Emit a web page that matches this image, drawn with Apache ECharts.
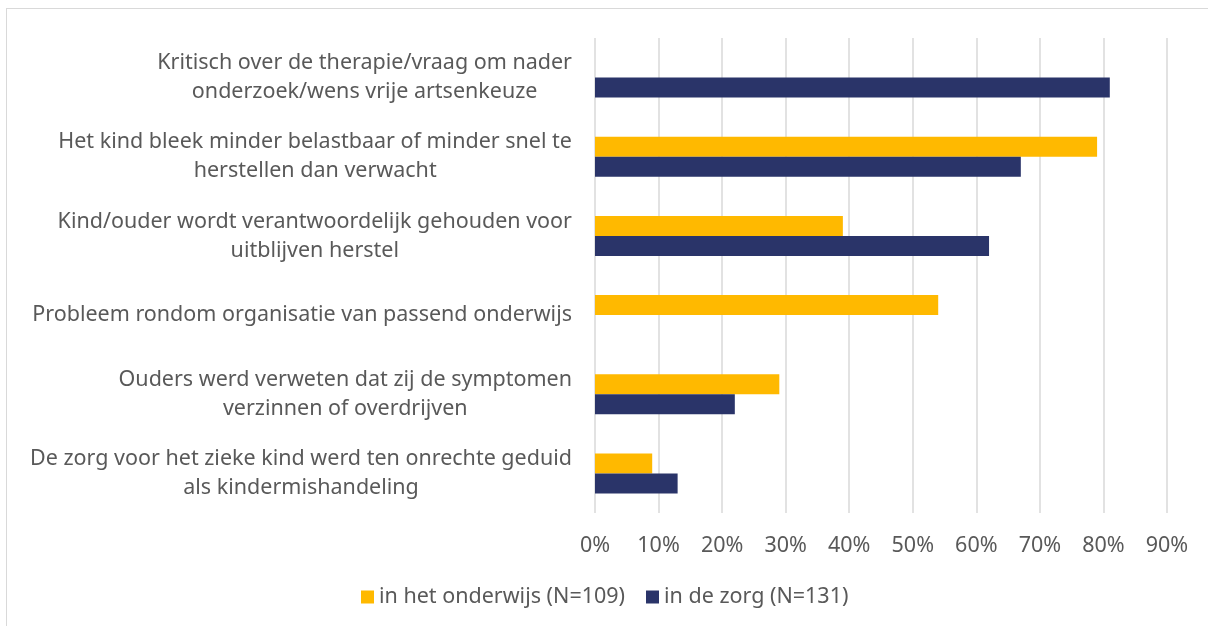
<!DOCTYPE html>
<html>
<head>
<meta charset="utf-8">
<script src="https://cdn.jsdelivr.net/npm/echarts@6/dist/echarts.min.js"></script>
<style>
    html, body { margin: 0; padding: 0; background: #fff; }
    #frame {
        position: absolute; left: 6px; top: 8px;
        width: 1240px; height: 660px;
        border: 1px solid #d9d9d9;
    }
    #chart { position: absolute; left: 0; top: 0; width: 1208px; height: 626px; }
</style>
</head>
<body>
<div id="frame"></div>
<div id="chart"></div>
<script>
var categories = [
    'Kritisch over de therapie/vraag om nader\nonderzoek/wens vrije artsenkeuze',
    'Het kind bleek minder belastbaar of minder snel te\nherstellen dan verwacht',
    'Kind/ouder wordt verantwoordelijk gehouden voor\nuitblijven herstel',
    'Probleem rondom organisatie van passend onderwijs',
    'Ouders werd verweten dat zij de symptomen\nverzinnen of overdrijven',
    'De zorg voor het zieke kind werd ten onrechte geduid\nals kindermishandeling'
]
var seriesNames = ['in het onderwijs (N=109)', 'in de zorg (N=131)']
var onderwijs = [0, 79, 39, 54, 29, 9]
var zorg = [81, 67, 62, 0, 22, 13]
var xTicks = [0, 10, 20, 30, 40, 50, 60, 70, 80, 90]

var font = 'Noto Sans'
var fs = 21.5
var chart = echarts.init(document.getElementById('chart'))
chart.setOption({
    animation: false,
    color: ['#FFB900', '#2A3469'],
    grid: { left: 595, right: 41, top: 38, bottom: 113 },
    legend: {
        bottom: 13,
        left: 356,
        icon: 'rect',
        itemWidth: 13,
        itemHeight: 13,
        itemGap: 21,
        data: seriesNames,
        textStyle: { color: '#595959', fontSize: fs, fontFamily: font }
    },
    xAxis: {
        type: 'value',
        min: xTicks[0],
        max: xTicks[xTicks.length - 1],
        interval: 10,
        axisLine: { show: false },
        axisTick: { show: false },
        axisLabel: {
            margin: 22,
            color: '#595959',
            fontSize: fs,
            fontFamily: font,
            formatter: '{value}%'
        },
        splitLine: { lineStyle: { color: '#d9d9d9', width: 1.5 } }
    },
    yAxis: {
        type: 'category',
        inverse: true,
        data: categories,
        axisLine: { show: false },
        axisTick: { show: false },
        axisLabel: {
            margin: 23,
            align: 'right',
            formatter: function (v) {
                return v.split('\n').map(function (l) { return '{c|' + l + '}' }).join('\n')
            },
            rich: {
                c: {
                    align: 'center',
                    color: '#595959',
                    fontSize: fs,
                    lineHeight: 29,
                    fontFamily: font
                }
            }
        }
    },
    series: [
        { name: seriesNames[0], type: 'bar', data: onderwijs, barWidth: 20, barGap: '0%' },
        { name: seriesNames[1], type: 'bar', data: zorg, barWidth: 20, barGap: '0%' }
    ]
})
</script>
</body>
</html>
